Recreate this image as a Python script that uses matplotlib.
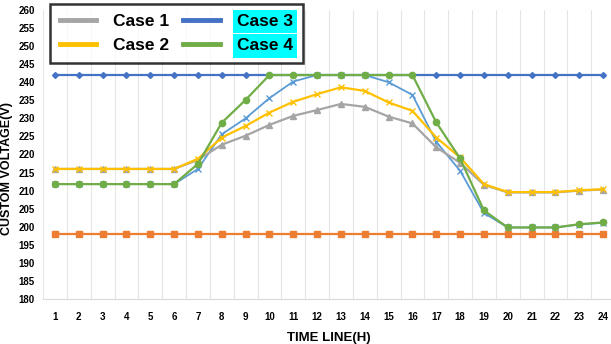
import numpy as np
import matplotlib as mpl
mpl.use('Agg')
import matplotlib.pyplot as plt
from matplotlib.lines import Line2D

plt.rcParams['font.family'] = ['Liberation Sans', 'DejaVu Sans']

### data ###
hours = list(range(1, 25))
case1 = [216, 216, 216, 216, 216, 216, 218.5, 222.7, 225.2, 228.2, 230.7, 232.3,
         234, 233.2, 230.5, 228.6, 222, 217.7, 211.6, 209.5, 209.5, 209.5, 210, 210.3]
case2 = [216, 216, 216, 216, 216, 216, 218.8, 224.7, 227.9, 231.6, 234.6, 236.7,
         238.6, 237.6, 234.4, 232.1, 224.7, 219.2, 211.8, 209.6, 209.6, 209.6, 210.1, 210.4]
case3 = [242] * 24
case4 = [211.8, 211.8, 211.8, 211.8, 211.8, 211.8, 217.4, 228.8, 235.1, 242, 242, 242,
         242, 242, 242, 242, 228.9, 218.9, 204.5, 199.8, 199.8, 199.8, 200.7, 201.2]
case5 = [211.8, 211.8, 211.8, 211.8, 211.8, 211.8, 216, 225.6, 230, 235.6, 240.2, 242,
         242, 242, 240, 236.5, 223.5, 215.5, 203.8, 199.8, 199.8, 199.8, 200.6, 201.1]
case6 = [198] * 24

yticks = list(range(180, 261, 5))

### colours ###
c_gray = '#A5A5A5'
c_yel = '#FFC000'
c_blue = '#4472C4'
c_green = '#70AD47'
c_lblue = '#5B9BD5'
c_orange = '#ED7D31'

fig = plt.figure(figsize=(6.11, 3.44), dpi=100)
ax = fig.add_axes([43/611, 45/344, 572/611, 289/344])

ax.plot(hours, case6, color=c_orange, lw=1.6, marker='s', ms=4.5, zorder=2)
ax.plot(hours, case3, color=c_blue, lw=1.6, marker='D', ms=3, zorder=3)
ax.plot(hours, case5, color=c_lblue, lw=1.3, marker='x', ms=4.5, mew=1, zorder=4)
ax.plot(hours, case1, color=c_gray, lw=1.6, marker='^', ms=4.5, zorder=5)
ax.plot(hours, case2, color=c_yel, lw=1.6, marker='x', ms=4.5, mew=1, zorder=6)
ax.plot(hours, case4, color=c_green, lw=1.6, marker='o', ms=4.5, zorder=7)

ax.set_xlim(0.5, 24.5)
ax.set_ylim(180, 260)
ax.set_xticks(hours)
ax.set_xticks(np.arange(0.5, 25, 1), minor=True)
ax.set_yticks(yticks)
ax.grid(True, which='minor', axis='x', color='#E6E6E6', lw=0.8)
ax.tick_params(which='both', length=0)
ax.tick_params(axis='x', pad=9, labelsize=7)
ax.tick_params(axis='y', pad=6, labelsize=7)
for lab in ax.get_xticklabels() + ax.get_yticklabels():
	lab.set_fontweight('bold')
for s in ['top', 'right', 'left']:
	ax.spines[s].set_visible(False)
ax.spines['bottom'].set_color('#D9D9D9')

ax.set_xlabel('TIME LINE(H)', fontsize=9.5, fontweight='bold')
ax.xaxis.set_label_coords(0.5, -0.115)
ax.set_ylabel('CUSTOM VOLTAGE(V)', fontsize=9, fontweight='bold')
ax.yaxis.set_label_coords(-0.053, 0.45)

handles = [Line2D([], [], color=c_gray, lw=3.5),
           Line2D([], [], color=c_yel, lw=3.5),
           Line2D([], [], color=c_blue, lw=3.5),
           Line2D([], [], color=c_green, lw=3.5)]
names = ['Case 1', 'Case 2', 'Case 3', 'Case 4']
leg = ax.legend(handles, names, ncol=2, loc='upper left',
                bbox_to_anchor=(50/611, 1 - 4/344), bbox_transform=fig.transFigure,
                prop={'size': 12.5, 'weight': 'bold'}, frameon=True, fancybox=False,
                edgecolor='black', handlelength=2.1, handletextpad=1.0,
                columnspacing=0.8, labelspacing=0.55, borderpad=0.55,
                borderaxespad=0)
leg.get_frame().set_linewidth(1.8)
for t in leg.get_texts()[2:]:
	t.set_bbox(dict(facecolor='#00FFFF', edgecolor='none', pad=3))

fig.savefig('out.png', dpi=100)
